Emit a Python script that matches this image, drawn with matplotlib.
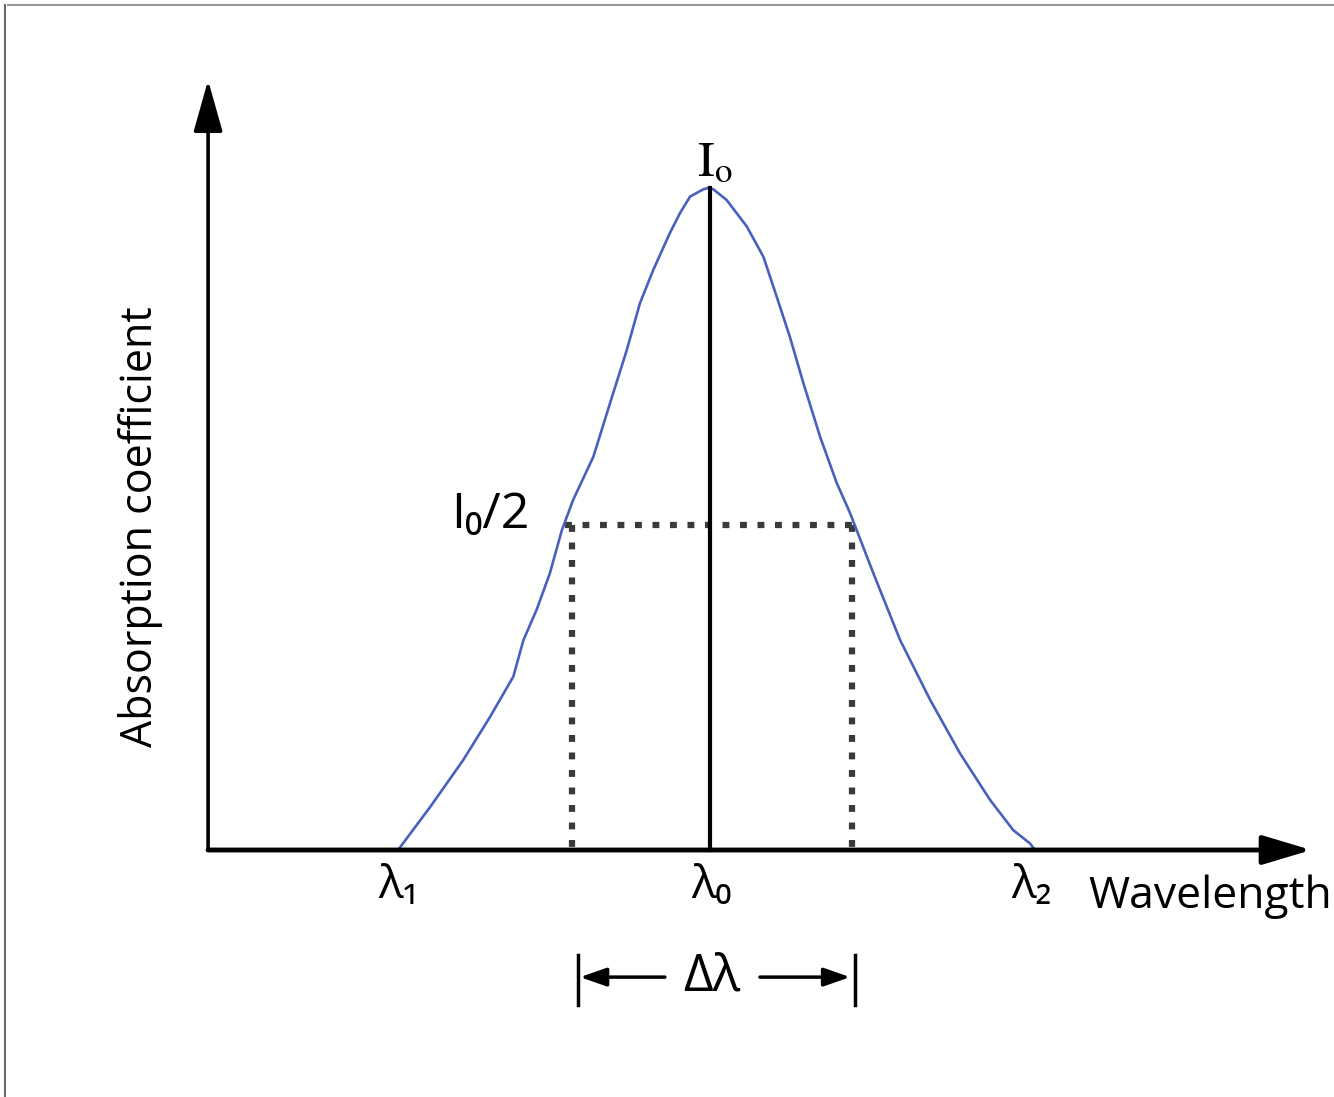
import matplotlib
matplotlib.use("Agg")
import matplotlib.pyplot as plt
from matplotlib.lines import Line2D

# curva de absorcao (comprimento de onda, intensidade relativa)
lam = [401.6, 411.8, 422.3, 430.8, 438.2, 441.4, 445.6, 449.8, 453.6, 457.2,
       463.6, 468.9, 474.2, 478.4, 482.6, 487.9, 491.1, 494.3, 498.5, 500.0,
       501.7, 505.9, 512.3, 517.6, 521.8, 526.0, 530.3, 535.6, 540.9, 545.1,
       552.5, 561.0, 570.5, 580.0, 589.5, 596.9, 602.2, 603.8]
absorb = [0.0, 0.065, 0.136, 0.201, 0.262, 0.317, 0.363, 0.418, 0.483, 0.529,
          0.594, 0.675, 0.755, 0.826, 0.876, 0.932, 0.962, 0.987, 0.998, 1.0,
          0.998, 0.982, 0.942, 0.896, 0.836, 0.775, 0.705, 0.624, 0.554, 0.509,
          0.418, 0.317, 0.227, 0.146, 0.076, 0.030, 0.010, 0.0]

lam0 = 500.6
lam1 = 401.6
lam2 = 603.8
pico = 1.0
meia = 0.491
meia_esq = 454.6
meia_dir = 546.7
vert_esq = 456.8
vert_dir = 545.7

origem_x = 341.3
topo_y = 1.163
fim_x = 691.5

fig = plt.figure(figsize=(13.34, 10.97), dpi=100)
ax = fig.add_axes([0, 0, 1, 1])
ax.set_xlim(275.24, 698.73)
ax.set_ylim(-0.3731, 1.2840)
ax.axis("off")

plt.rcParams["mathtext.fontset"] = "stix"
fonte = ["Open Sans", "DejaVu Sans"]

# eixos com setas
ax.annotate("", xy=(origem_x, topo_y), xytext=(origem_x, 0),
            arrowprops=dict(arrowstyle="-|>,head_length=1.6,head_width=0.45",
                            mutation_scale=20, lw=2.6, color="black",
                            shrinkA=0, shrinkB=0))
ax.annotate("", xy=(fim_x, 0), xytext=(origem_x, 0),
            arrowprops=dict(arrowstyle="-|>,head_length=1.5,head_width=0.45",
                            mutation_scale=20, lw=3.5, color="black",
                            shrinkA=0, shrinkB=0))

# linhas pontilhadas da meia altura
pont = dict(color="#3a3a3a", lw=4.5, linestyle=(0, (1.1, 1.7)))
ax.plot([meia_esq, meia_dir], [meia, meia], **pont)
ax.plot([vert_esq, vert_esq], [meia, 0], **pont)
ax.plot([vert_dir, vert_dir], [meia, 0], **pont)

# curva
ax.plot(lam, absorb, color="#4a60bd", lw=1.9, solid_capstyle="round",
        solid_joinstyle="round")

# linha do pico
ax.plot([lam0, lam0], [0, pico], color="black", lw=3)

# textos
ax.text(lam0 + 1.5, 1.04, r"$\mathrm{I}_\mathrm{o}$", fontsize=36,
        ha="center", va="center")
ax.text(430.8, 0.506, "I\u2080/2", family=fonte, fontsize=36, ha="center", va="center")
ax.text(lam1, -0.055, "\u03bb\u2081", family=fonte, fontsize=33, ha="center", va="center")
ax.text(lam0 + 0.5, -0.055, "\u03bb\u2080", family=fonte, fontsize=33, ha="center", va="center")
ax.text(lam2 - 1, -0.055, "\u03bb\u2082", family=fonte, fontsize=33, ha="center", va="center")
ax.text(659.4, -0.071, "Wavelength", family=fonte, fontsize=32, ha="center", va="center")
ax.text(319.7, 0.488, "Absorption coefficient", family=fonte, fontsize=31,
        ha="center", va="center", rotation=90)

# largura a meia altura
ax.plot([458.7, 458.7], [-0.159, -0.234], color="black", lw=2.5)
ax.plot([546.7, 546.7], [-0.159, -0.234], color="black", lw=2.5)
ax.annotate("", xy=(459.4, -0.192), xytext=(486.3, -0.192),
            arrowprops=dict(arrowstyle="-|>,head_length=0.8,head_width=0.28",
                            mutation_scale=20, lw=2.5, color="black",
                            shrinkA=0, shrinkB=0))
ax.annotate("", xy=(545.1, -0.192), xytext=(516.5, -0.192),
            arrowprops=dict(arrowstyle="-|>,head_length=0.8,head_width=0.28",
                            mutation_scale=20, lw=2.5, color="black",
                            shrinkA=0, shrinkB=0))
ax.text(501.3, -0.192, "\u0394\u03bb", family=fonte, fontsize=37, ha="center", va="center")

# moldura cinza da imagem original
fig.add_artist(Line2D([0.006, 1], [0.9955, 0.9955], color="#9a9a9a", lw=1.5))
fig.add_artist(Line2D([0.004, 0.004], [0, 0.9955], color="#6a6a6a", lw=1.5))

fig.savefig("out.png", dpi=100)
